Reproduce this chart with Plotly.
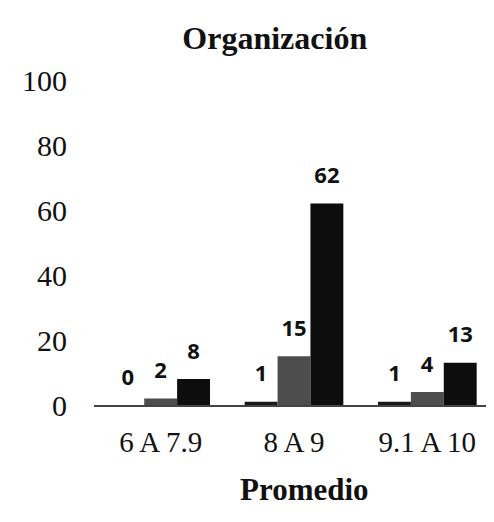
import plotly.graph_objects as go

categories = ["6 A 7.9", "8 A 9", "9.1 A 10"]
serie_1 = [0, 1, 1]
serie_2 = [2, 15, 4]
serie_3 = [8, 62, 13]
y_ticks = [0, 20, 40, 60, 80, 100]

colors = ["#1a1a1a", "#4d4d4d", "#0d0d0d"]
fig = go.Figure()
for vals, col in zip([serie_1, serie_2, serie_3], colors):
    fig.add_trace(go.Bar(
        x=categories, y=vals, marker=dict(color=col, line=dict(width=0)),
        texttemplate="<span style='font-size:22px'><b>%{y}</b></span><br> ",
        textposition="outside",
        textfont=dict(family="Open Sans", size=11, color="#111"),
        cliponaxis=False, showlegend=False,
    ))

fig.update_layout(
    width=494, height=522,
    margin=dict(l=86, r=8, t=72, b=125),
    paper_bgcolor="white", plot_bgcolor="white",
    barmode="group", bargap=0.26, bargroupgap=0,
    title=dict(text="<b>Organización</b>", x=0.54, xanchor="center", y=0.943, yanchor="middle",
               font=dict(family="Liberation Serif", size=32, color="#111")),
    font=dict(family="Liberation Serif", color="#111"),
    uniformtext=dict(minsize=11, mode="show"),
    annotations=[dict(text="<b>Promedio</b>", xref="paper", yref="paper", x=0.525, y=-0.26,
                      xanchor="center", yanchor="middle", showarrow=False,
                      font=dict(family="Liberation Serif", size=31, color="#111"))],
)
fig.update_yaxes(range=[0, 100], tickvals=y_ticks, showgrid=False, zeroline=False,
                 showline=False, tickfont=dict(family="Liberation Serif", size=30, color="#111"),
                 ticklabelstandoff=26)
fig.update_xaxes(showline=True, linecolor="#444", linewidth=1.5, showgrid=False,
                 tickfont=dict(family="Liberation Serif", size=29, color="#111"),
                 ticklabelstandoff=10)
fig.write_html("out.html")
